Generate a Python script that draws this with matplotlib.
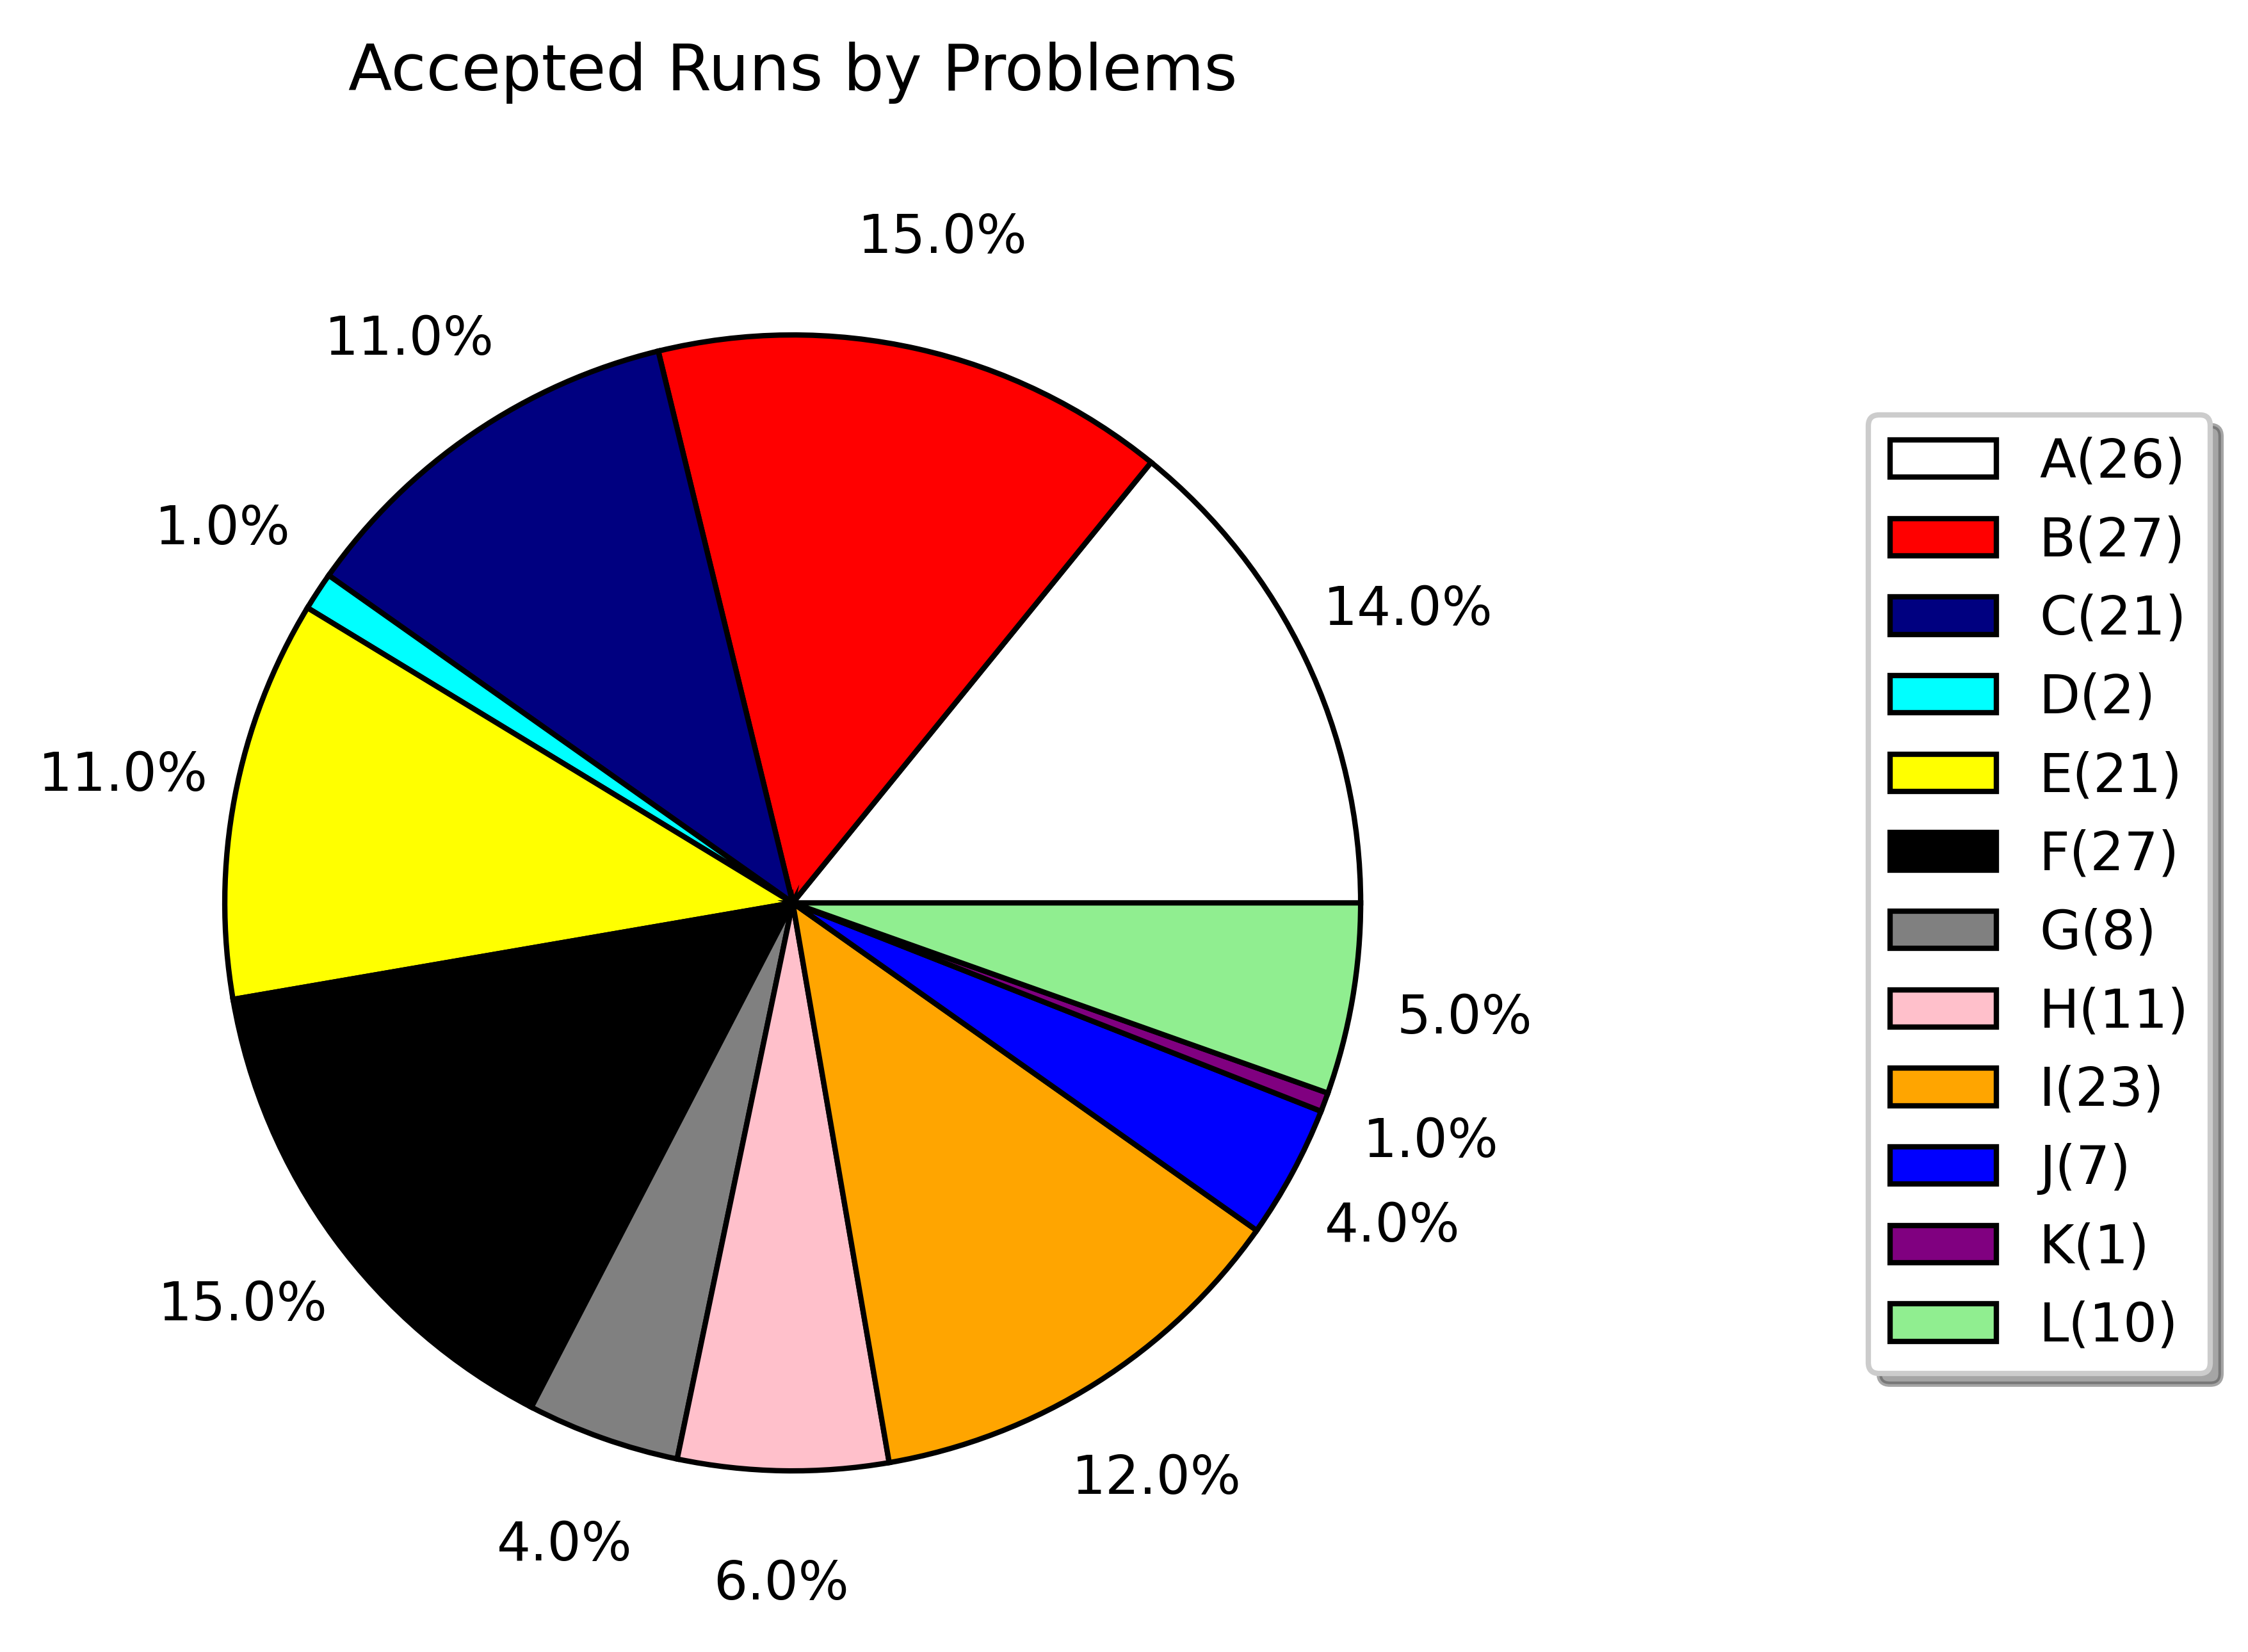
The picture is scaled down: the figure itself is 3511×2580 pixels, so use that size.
import matplotlib
matplotlib.use('Agg')
from matplotlib import pyplot as plt

# ---DATA--- #
problems = ['A', 'B', 'C', 'D', 'E', 'F', 'G', 'H', 'I', 'J', 'K', 'L']
accepted = [26, 27, 21, 2, 21, 27, 8, 11, 23, 7, 1, 10]
colors = ['white', 'red', 'navy', 'cyan', 'yellow', 'black',
          'gray', 'pink', 'orange', 'blue', 'purple', 'lightgreen']

legend_labels = ['%s(%d)' % (p, n) for p, n in zip(problems, accepted)]

# ---PIE--- #
fig = plt.figure(figsize=(5.853, 4.3), dpi=600)
ax = fig.add_axes([0.0368, 0.0237, 0.6315, 0.8595])

wedges, texts, autotexts = ax.pie(
    accepted, colors=colors, startangle=0, counterclock=True,
    autopct=lambda p: '%.1f%%' % round(p), pctdistance=1.2,
    wedgeprops={'edgecolor': 'black', 'linewidth': 1.0})
ax.set_aspect('equal')

ax.set_title('Accepted Runs by Problems', y=1.0725, pad=0)

fig.legend(wedges, legend_labels, loc='center left',
           bbox_to_anchor=(0.831, 0.4587), bbox_transform=fig.transFigure,
           borderaxespad=0, shadow=True)

fig.savefig('out.png', dpi=600)
